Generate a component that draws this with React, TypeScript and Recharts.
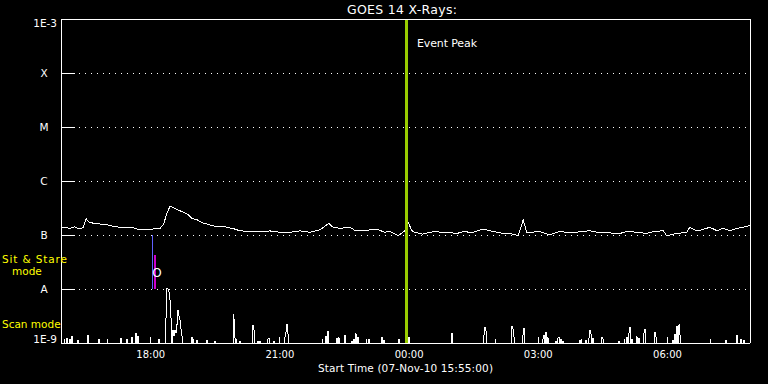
import { LineChart, Line, XAxis, YAxis, CartesianGrid, ReferenceLine, ReferenceArea } from "recharts";

// x values are minutes after the start time, 07-Nov-10 15:55:00
const hourTicks = [5, 65, 125, 185, 245, 305, 365, 425, 485, 545, 605, 665, 725, 785, 845, 905];
const hourNames = ["16:00", "17:00", "18:00", "19:00", "20:00", "21:00", "22:00", "23:00",
  "00:00", "01:00", "02:00", "03:00", "04:00", "05:00", "06:00", "07:00"];
const labelledHours = ["18:00", "21:00", "00:00", "03:00", "06:00"];

const decadeTicks = [1e-9, 1e-8, 1e-7, 1e-6, 1e-5, 1e-4, 1e-3];
const decadeNames = ["1E-9", "A", "B", "C", "M", "X", "1E-3"];

// 1-8 A channel
const longTimes = [0, 6, 12, 19, 26, 31, 35, 38, 45, 54, 64, 72, 82, 92, 100, 110, 120, 128, 138, 143,
  148, 152, 156, 162, 169, 176, 182, 190, 198, 208, 217, 226, 235, 242, 249, 259, 267, 276, 291, 305,
  319, 333, 347, 361, 373, 379, 389, 403, 410, 421, 440, 451, 458, 470, 479, 483, 489, 493, 504, 518,
  538, 552, 560, 574, 588, 598, 612, 626, 637, 644, 649, 667, 681, 695, 709, 723, 737, 751, 765, 779,
  789, 803, 816, 825, 839, 844, 858, 872, 876, 886, 893, 904, 914, 922, 932, 942, 950, 960];
const longFlux = [1.35e-7, 1.39e-7, 1.33e-7, 1.41e-7, 1.29e-7, 1.39e-7, 2.04e-7, 1.76e-7, 1.65e-7, 1.6e-7,
  1.55e-7, 1.45e-7, 1.39e-7, 1.39e-7, 1.37e-7, 1.25e-7, 1.29e-7, 1.29e-7, 1.33e-7, 1.6e-7,
  2.63e-7, 3.4e-7, 3.26e-7, 2.94e-7, 2.7e-7, 2.45e-7, 2.04e-7, 1.9e-7, 1.67e-7, 1.53e-7,
  1.43e-7, 1.45e-7, 1.35e-7, 1.29e-7, 1.2e-7, 1.17e-7, 1.17e-7, 1.15e-7, 1.19e-7, 1.12e-7,
  1.12e-7, 1.19e-7, 1.12e-7, 1.25e-7, 1.65e-7, 1.39e-7, 1.33e-7, 1.39e-7, 1.2e-7, 1.2e-7,
  1.29e-7, 1.12e-7, 1.17e-7, 0.97e-7, 1.2e-7, 1.79e-7, 1.2e-7, 1.12e-7, 1.04e-7, 1.15e-7,
  1.12e-7, 1.07e-7, 1.15e-7, 1.12e-7, 1.29e-7, 1.2e-7, 1.09e-7, 1.07e-7, 0.97e-7, 1.9e-7,
  1.12e-7, 1.15e-7, 1.01e-7, 1.17e-7, 1.09e-7, 1.15e-7, 1.2e-7, 1.09e-7, 1.09e-7, 1.07e-7,
  1.17e-7, 1.12e-7, 1.07e-7, 1.15e-7, 1.2e-7, 0.97e-7, 1.07e-7, 1.12e-7, 1.39e-7, 1.2e-7,
  1.25e-7, 1.39e-7, 1.2e-7, 1.33e-7, 1.2e-7, 1.33e-7, 1.39e-7, 1.49e-7];

// 0.5-4 A channel, only the samples that rise above the 1E-9 floor
const shortTimes = [8.4, 12.5, 15.3, 23.7, 37.6, 52.9, 83.6, 92, 98.9, 104.5, 107.3, 136.5,
  146.3, 147.7, 149.1, 150.5, 151.9, 153.3, 154.7, 156, 157.4, 158.8, 160.2, 161.6, 163, 164.4, 165.8, 167.2, 168.6,
  182.5, 189.5, 203.4, 214.6, 240.6, 242, 249.4, 267.5, 268.9, 274.5, 277.3, 288.4, 289.8, 296.8,
  312.1, 313.5, 314.9, 316.3, 369.2, 372, 384.5, 387.3, 395.7, 405.5, 408.2, 411, 413.8, 429.1,
  447.3, 450, 470.9, 484.9, 544.8, 589.4, 590.8, 592.2, 628.4, 629.8, 631.2, 643.7, 645.1,
  671.6, 673, 675.8, 678.5, 689.7, 692.5, 693.9, 696.7, 699.4, 723.1, 731.5, 735.7, 737.1, 738.5,
  741.2, 753.8, 755.2, 777.5, 788.6, 791.4, 792.8, 795.6, 802.5, 805.3, 812.3, 813.7, 827.6, 829,
  852.7, 855.5, 858.3, 861.1, 862.5, 926.5, 941.9, 947.5, 951.6];
const shortFlux = [1.24e-9, 1.19e-9, 1.35e-9, 1.14e-9, 1.41e-9, 1.19e-9, 1.24e-9, 1.19e-9, 1.29e-9, 1.53e-9, 1.35e-9, 1.19e-9,
  2.9e-9, 1.04e-8, 1.0e-8, 8.8e-9, 6.25e-9, 2.9e-9, 1.0e-9, 1.74e-9, 1.35e-9, 1.74e-9, 1.53e-9, 2.15e-9, 4.08e-9, 3.16e-9, 2.67e-9, 1.82e-9, 1.35e-9,
  1.29e-9, 1.14e-9, 1.14e-9, 1.09e-9, 3.44e-9, 1.82e-9, 1.09e-9, 2.15e-9, 1.74e-9, 1.09e-9, 1.09e-9, 1.19e-9, 1.24e-9, 1.09e-9,
  1.29e-9, 1.6e-9, 2.25e-9, 1.47e-9, 1.35e-9, 1.67e-9, 1.24e-9, 1.29e-9, 1.41e-9, 1.09e-9, 1.19e-9, 1.53e-9, 1.29e-9, 1.19e-9,
  1.29e-9, 1.14e-9, 1.19e-9, 1.29e-9, 1.53e-9, 1.41e-9, 1.98e-9, 1.67e-9, 2.06e-9, 1.82e-9, 1.29e-9, 1.41e-9, 1.9e-9,
  1.19e-9, 1.41e-9, 1.6e-9, 1.29e-9, 1.09e-9, 1.24e-9, 1.29e-9, 1.19e-9, 1.09e-9, 1.14e-9, 1.14e-9, 1.24e-9, 1.74e-9, 1.47e-9,
  1.24e-9, 1.29e-9, 1.19e-9, 1.09e-9, 1.29e-9, 1.53e-9, 1.98e-9, 1.19e-9, 1.35e-9, 1.24e-9, 1.53e-9, 1.82e-9, 1.6e-9, 1.29e-9,
  1.14e-9, 1.47e-9, 2.06e-9, 2.25e-9, 1.41e-9, 1.14e-9, 1.41e-9, 1.19e-9, 1.14e-9];
const SHORT_FLOOR = 1e-9;

const EVENT_PEAK = 482;
// spectrometer mode bars near 18:00
const sitStareBar = { x1: 126.8, x2: 128.6, y1: 1e-8, y2: 1e-7 };
const scanBar = { x1: 129.2, x2: 132.4, y1: 1e-8, y2: 4.3e-8 };

const FONT = "DejaVu Sans, sans-serif";
const WHITE = "#ffffff";

const longData = longTimes.map((t, i) => ({ t, v: longFlux[i] }));

const shortData: Array<{ t: number; v: number }> = [{ t: 0, v: SHORT_FLOOR }];
let prev = -10;
shortTimes.forEach((t, i) => {
  if (t - prev > 2) {
    shortData.push({ t: prev + 0.7, v: SHORT_FLOOR });
    shortData.push({ t: t - 0.7, v: SHORT_FLOOR });
  }
  shortData.push({ t, v: shortFlux[i] });
  prev = t;
});
shortData.push({ t: prev + 0.7, v: SHORT_FLOOR }, { t: 960, v: SHORT_FLOOR });
const shortSeries = shortData.filter((d) => d.t >= 0);

function BottomTick({ x, y, payload }: any) {
  const name = hourNames[hourTicks.indexOf(payload.value)];
  const big = labelledHours.includes(name);
  return (
    <g>
      <line x1={x} x2={x} y1={y} y2={y - (big ? 6 : 4)} stroke={WHITE} />
      {big ? (
        <text x={x} y={y + 15} textAnchor="middle" fill={WHITE} fontSize={10} fontFamily={FONT}>
          {name}
        </text>
      ) : null}
    </g>
  );
}

function TopTick({ x, y, payload }: any) {
  const name = hourNames[hourTicks.indexOf(payload.value)];
  const big = labelledHours.includes(name);
  return <line x1={x} x2={x} y1={y} y2={y + (big ? 6 : 4)} stroke={WHITE} />;
}

function LeftTick({ x, y, payload }: any) {
  const i = decadeTicks.indexOf(payload.value);
  const name = decadeNames[i];
  const edge = i === 0 || i === decadeTicks.length - 1;
  return (
    <g>
      {!edge ? <line x1={x} x2={x + 14} y1={y} y2={y} stroke={WHITE} /> : null}
      <text
        x={edge ? x - 4 : x - 17}
        y={i === 0 ? y : edge ? y + 8 : y + 4}
        textAnchor={edge ? "end" : "middle"}
        fill={WHITE}
        fontSize={10.5}
        fontFamily={FONT}
      >
        {name}
      </text>
    </g>
  );
}

function RightTick({ x, y }: any) {
  return <line x1={x - 14} x2={x} y1={y} y2={y} stroke={WHITE} />;
}

export default function App() {
  return (
    <div
      style={{
        position: "absolute",
        left: 0,
        top: 0,
        width: 768,
        height: 384,
        background: "#000",
        shapeRendering: "crispEdges",
      }}
    >
      <LineChart width={768} height={384} margin={{ top: 0, right: 0, left: 0, bottom: 0 }}>
        <CartesianGrid vertical={false} stroke={WHITE} strokeDasharray="1 5" />
        <XAxis
          dataKey="t"
          type="number"
          domain={[0, 960]}
          ticks={hourTicks}
          height={41}
          tickSize={0}
          tickMargin={0}
          tickLine={false}
          tick={<BottomTick />}
          axisLine={{ stroke: WHITE }}
          allowDataOverflow
        />
        <XAxis
          xAxisId="top"
          orientation="top"
          dataKey="t"
          type="number"
          domain={[0, 960]}
          ticks={hourTicks}
          height={19}
          tickSize={0}
          tickMargin={0}
          tickLine={false}
          tick={<TopTick />}
          axisLine={{ stroke: WHITE }}
        />
        <YAxis
          scale="log"
          domain={[1e-9, 1e-3]}
          ticks={decadeTicks}
          width={61}
          tickSize={0}
          tickMargin={0}
          tickLine={false}
          tick={<LeftTick />}
          axisLine={{ stroke: WHITE }}
          allowDataOverflow
        />
        <YAxis
          yAxisId="right"
          orientation="right"
          scale="log"
          domain={[1e-9, 1e-3]}
          ticks={decadeTicks}
          width={18}
          tickSize={0}
          tickMargin={0}
          tickLine={false}
          tick={<RightTick />}
          axisLine={{ stroke: WHITE }}
        />
        <ReferenceArea {...sitStareBar} fill="#6060ff" fillOpacity={1} stroke="none" />
        <ReferenceArea {...scanBar} fill="#cc00cc" fillOpacity={1} stroke="none" />
        <Line data={shortSeries} dataKey="v" stroke={WHITE} strokeWidth={1} dot={false} isAnimationActive={false} type="linear" />
        <Line data={longData} dataKey="v" stroke={WHITE} strokeWidth={1} dot={false} isAnimationActive={false} type="linear" />
        <ReferenceLine x={EVENT_PEAK} stroke="#99cc00" strokeWidth={3} />
      </LineChart>
      <svg
        width={768}
        height={384}
        style={{ position: "absolute", left: 0, top: 0, pointerEvents: "none" }}
        fontFamily={FONT}
      >
        <text x={347} y={14} fill={WHITE} fontSize={12.5} textLength={110} lengthAdjust="spacing">GOES 14 X-Rays:</text>
        <text x={417} y={47} fill={WHITE} fontSize={11} textLength={60} lengthAdjust="spacing">Event Peak</text>
        <text x={157} y={277} textAnchor="middle" fill={WHITE} fontSize={12}>O</text>
        <text x={318} y={372} fill={WHITE} fontSize={10.5} textLength={175} lengthAdjust="spacing">Start Time (07-Nov-10 15:55:00)</text>
        <text x={2} y={263} fill="#ffff00" fontSize={10.5} textLength={65} lengthAdjust="spacing">Sit &amp; Stare</text>
        <text x={12} y={275} fill="#ffff00" fontSize={10.5}>mode</text>
        <text x={2} y={328} fill="#ffff00" fontSize={10.5}>Scan mode</text>
      </svg>
    </div>
  );
}
